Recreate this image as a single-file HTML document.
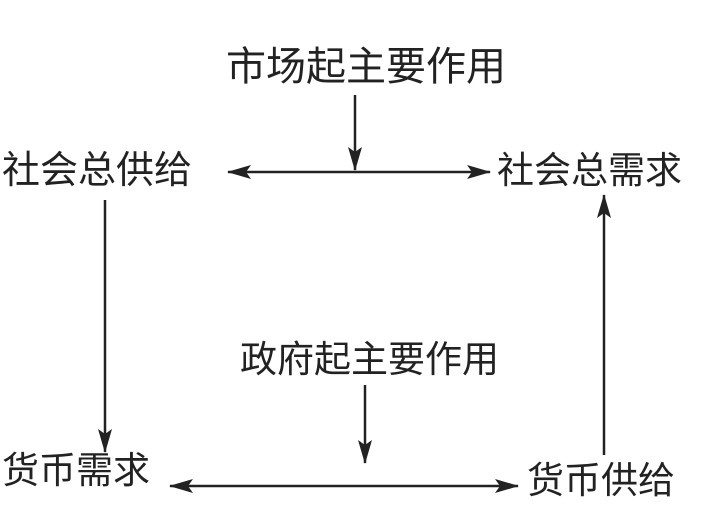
<!DOCTYPE html>
<html><head><meta charset="utf-8"><style>
html,body{margin:0;padding:0;background:#fff;}
.w{position:relative;width:715px;height:506px;overflow:hidden;}
.t{position:absolute;font-family:"Liberation Sans","Noto Sans CJK SC",sans-serif;color:#222;white-space:nowrap;line-height:1;}
</style></head><body><div class="w">
<div class="t" style="left:226px;top:47px;font-size:40px;">市场起主要作用</div>
<div class="t" style="left:2px;top:152px;font-size:38px;">社会总供给</div>
<div class="t" style="left:497px;top:152px;font-size:37px;">社会总需求</div>
<div class="t" style="left:240px;top:341px;font-size:37px;">政府起主要作用</div>
<div class="t" style="left:2px;top:452px;font-size:37px;">货币需求</div>
<div class="t" style="left:527px;top:462px;font-size:37px;">货币供给</div>
<svg width="715" height="506" style="position:absolute;left:0;top:0">
<defs><marker id="a" markerWidth="10" markerHeight="8" refX="9" refY="4" orient="auto" markerUnits="userSpaceOnUse" viewBox="0 0 10 8"><path d="M0,0 L10,4 L0,8 L2,4 z" fill="#222"/></marker>
<marker id="b" markerWidth="24" markerHeight="14" refX="23" refY="7" orient="auto-start-reverse" markerUnits="userSpaceOnUse" viewBox="0 0 24 14"><path d="M0,0 L24,7 L0,14 L5,7 z" fill="#222"/></marker></defs>
<g stroke="#222" stroke-width="2.5" fill="none">
<line x1="355" y1="95" x2="355" y2="170" marker-end="url(#b)"/>
<line x1="228" y1="172" x2="490" y2="172" marker-start="url(#b)" marker-end="url(#b)"/>
<line x1="105" y1="200" x2="105" y2="452" marker-end="url(#b)"/>
<line x1="604" y1="455" x2="604" y2="195" marker-end="url(#b)"/>
<line x1="365" y1="385" x2="365" y2="463" marker-end="url(#b)"/>
<line x1="170" y1="486" x2="518" y2="486" marker-start="url(#b)" marker-end="url(#b)"/>
</g></svg>
</div></body></html>
